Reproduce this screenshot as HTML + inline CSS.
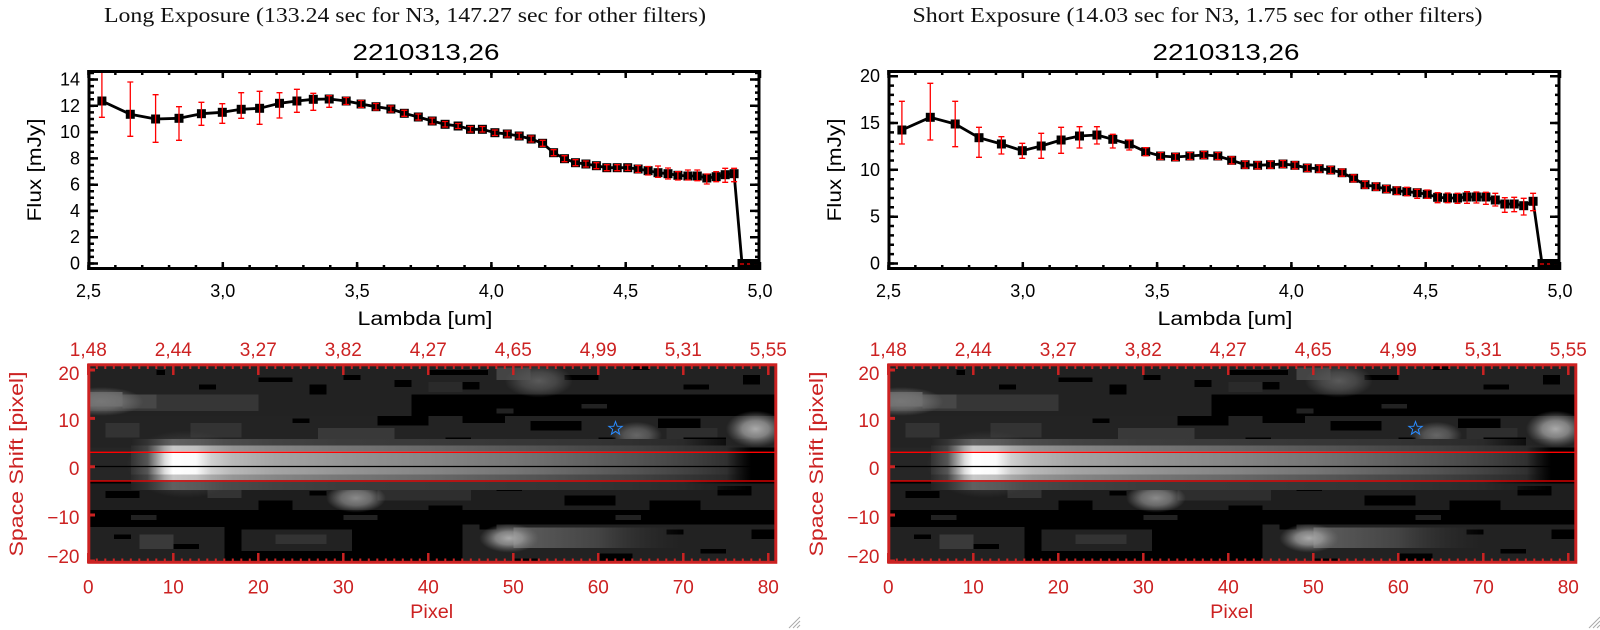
<!DOCTYPE html>
<html><head><meta charset="utf-8"><style>
html,body{margin:0;padding:0;background:#fff;}
svg{display:block;}
.t{font-family:"Liberation Sans",sans-serif;}
.s{font-family:"Liberation Serif",serif;}
</style></head><body>
<svg width="1600" height="630" viewBox="0 0 1600 630" xmlns="http://www.w3.org/2000/svg">
<defs>
<marker id="sq" markerUnits="userSpaceOnUse" markerWidth="10" markerHeight="10" refX="4.5" refY="4.5" overflow="visible"><rect width="9" height="9" fill="#000"/></marker>
<clipPath id="cpL"><rect x="88.5" y="71" width="671.5" height="198"/></clipPath>
<clipPath id="cpR"><rect x="888.5" y="71" width="671.5" height="198"/></clipPath>
<clipPath id="cpI"><rect x="88.3" y="364.3" width="688.5" height="198.7"/></clipPath>
<linearGradient id="gc" x1="0" x2="1" y1="0" y2="0">
<stop offset="0" stop-color="#333"/><stop offset="0.027" stop-color="#555"/><stop offset="0.041" stop-color="#999"/><stop offset="0.055" stop-color="#ddd"/><stop offset="0.068" stop-color="#fff"/><stop offset="0.105" stop-color="#fafafa"/><stop offset="0.13" stop-color="#d0d0d0"/><stop offset="0.164" stop-color="#b8b8b8"/><stop offset="0.233" stop-color="#a4a4a4"/><stop offset="0.342" stop-color="#959595"/><stop offset="0.479" stop-color="#868686"/><stop offset="0.616" stop-color="#767676"/><stop offset="0.726" stop-color="#636363"/><stop offset="0.822" stop-color="#525252"/><stop offset="0.904" stop-color="#404040"/><stop offset="0.96" stop-color="#303030"/><stop offset="1" stop-color="#222" stop-opacity="0"/>
</linearGradient>
<linearGradient id="gm" x1="0" x2="1" y1="0" y2="0">
<stop offset="0" stop-color="#2a2a2a"/><stop offset="0.027" stop-color="#444"/><stop offset="0.041" stop-color="#777"/><stop offset="0.055" stop-color="#aaa"/><stop offset="0.068" stop-color="#c8c8c8"/><stop offset="0.105" stop-color="#c0c0c0"/><stop offset="0.13" stop-color="#a8a8a8"/><stop offset="0.164" stop-color="#959595"/><stop offset="0.233" stop-color="#858585"/><stop offset="0.342" stop-color="#767676"/><stop offset="0.479" stop-color="#686868"/><stop offset="0.616" stop-color="#585858"/><stop offset="0.726" stop-color="#4a4a4a"/><stop offset="0.822" stop-color="#404040"/><stop offset="0.904" stop-color="#333"/><stop offset="0.96" stop-color="#2a2a2a"/><stop offset="1" stop-color="#222" stop-opacity="0"/>
</linearGradient>
<linearGradient id="gh" x1="0" x2="1" y1="0" y2="0">
<stop offset="0" stop-color="#222"/><stop offset="0.027" stop-color="#333"/><stop offset="0.055" stop-color="#555"/><stop offset="0.068" stop-color="#606060"/><stop offset="0.11" stop-color="#5a5a5a"/><stop offset="0.151" stop-color="#4c4c4c"/><stop offset="0.233" stop-color="#424242"/><stop offset="0.342" stop-color="#3c3c3c"/><stop offset="0.548" stop-color="#383838"/><stop offset="0.753" stop-color="#333"/><stop offset="0.89" stop-color="#2a2a2a"/><stop offset="1" stop-color="#222" stop-opacity="0"/>
</linearGradient>
<linearGradient id="gt" x1="0" x2="1" y1="0" y2="0"><stop offset="0" stop-color="#5e5e5e"/><stop offset="0.5" stop-color="#444"/><stop offset="1" stop-color="#2a2a2a" stop-opacity="0"/></linearGradient>
<radialGradient id="r77"><stop offset="0" stop-color="#777"/><stop offset="0.5" stop-color="#777" stop-opacity="0.7"/><stop offset="1" stop-color="#777" stop-opacity="0"/></radialGradient>
<radialGradient id="r88"><stop offset="0" stop-color="#8a8a8a"/><stop offset="0.5" stop-color="#8a8a8a" stop-opacity="0.7"/><stop offset="1" stop-color="#8a8a8a" stop-opacity="0"/></radialGradient>
<radialGradient id="raa"><stop offset="0" stop-color="#aaa"/><stop offset="0.45" stop-color="#999" stop-opacity="0.8"/><stop offset="1" stop-color="#777" stop-opacity="0"/></radialGradient>
<radialGradient id="r66"><stop offset="0" stop-color="#666"/><stop offset="0.5" stop-color="#666" stop-opacity="0.7"/><stop offset="1" stop-color="#666" stop-opacity="0"/></radialGradient>
<radialGradient id="r5a"><stop offset="0" stop-color="#5a5a5a"/><stop offset="0.5" stop-color="#555" stop-opacity="0.7"/><stop offset="1" stop-color="#555" stop-opacity="0"/></radialGradient>
<radialGradient id="r4a"><stop offset="0" stop-color="#4a4a4a"/><stop offset="0.6" stop-color="#444" stop-opacity="0.7"/><stop offset="1" stop-color="#444" stop-opacity="0"/></radialGradient>

<g id="bp">
 <g clip-path="url(#cpI)">
  <g transform="translate(88.3,466.7) scale(8.5,-4.83)" shape-rendering="crispEdges">
   <rect x="0" y="-20.5" width="81.5" height="42" fill="#000"/>
   <rect x="0" y="15" width="81.5" height="6.5" fill="#222"/>
   <rect x="0" y="10.5" width="38" height="4.5" fill="#222"/>
   <rect x="0" y="4" width="81.5" height="6.5" fill="#232323"/>
   <rect x="0" y="-9" width="81.5" height="5.5" fill="#1e1e1e"/>
   <rect x="0" y="-20.5" width="16" height="8" fill="#222"/>
   <rect x="18" y="-17.5" width="13" height="4.5" fill="#222"/>
   <rect x="44" y="-20.5" width="37.5" height="8.5" fill="#222"/>
   <rect x="0" y="-3" width="8" height="7" fill="#262626"/>
   <rect x="0" y="11.5" width="20" height="3.5" fill="#363636"/>
   <rect x="0" y="12.5" width="4" height="3" fill="#5a5a5a"/>
   <rect x="4" y="12" width="4" height="3" fill="#474747"/>
   <rect x="2" y="6" width="4" height="3" fill="#333"/>
   <rect x="12" y="6" width="6" height="3" fill="#333"/>
   <rect x="27" y="5.5" width="9" height="2.5" fill="#393939"/>
   <rect x="48" y="18" width="4" height="2.5" fill="#444"/>
   <rect x="14" y="-6.5" width="4" height="2.5" fill="#333"/>
   <rect x="34" y="-7" width="11" height="3" fill="#2e2e2e"/>
   <rect x="6" y="-17" width="4" height="3" fill="#3a3a3a"/>
   <rect x="22" y="-16" width="6" height="2" fill="#333"/>
   <rect x="68" y="5" width="6" height="3" fill="#2e2e2e"/>
   <rect x="40" y="15.5" width="4" height="2" fill="#2a2a2a"/>
   <rect x="58" y="12" width="3" height="1" fill="#222"/>
   <rect x="48" y="11" width="2" height="1" fill="#222"/>
   <rect x="5" y="-11" width="3" height="1" fill="#222"/>
   <rect x="30" y="-11" width="4" height="1" fill="#222"/>
   <rect x="62" y="-11" width="3" height="1" fill="#222"/>
   <g fill="#000">
    <rect x="20" y="17.5" width="4" height="1"/><rect x="26" y="15" width="2" height="2"/><rect x="36" y="16.5" width="2" height="1.5"/><rect x="40" y="19" width="7" height="1"/><rect x="44" y="16" width="2" height="1.5"/><rect x="56" y="18" width="4" height="1"/><rect x="64" y="20" width="2" height="1"/><rect x="70" y="16" width="3" height="1"/><rect x="77" y="17" width="2" height="2"/><rect x="8" y="19" width="1" height="1"/><rect x="30" y="18" width="2" height="1"/><rect x="13" y="16" width="2" height="1"/>
    <rect x="34" y="8.5" width="6" height="2"/><rect x="44" y="9" width="5" height="1.5"/><rect x="52" y="7.5" width="6" height="2"/><rect x="67" y="8" width="5" height="2"/><rect x="70" y="4" width="5" height="2"/><rect x="60" y="5" width="2" height="1"/><rect x="24" y="9" width="2" height="1"/><rect x="42" y="5" width="3" height="1"/><rect x="56" y="4" width="3" height="1"/>
    <rect x="2" y="-6.5" width="4" height="1.5"/><rect x="20" y="-9" width="4" height="2"/><rect x="26" y="-6" width="2" height="1"/><rect x="40" y="-9" width="4" height="1"/><rect x="56" y="-8" width="6" height="2"/><rect x="66" y="-9" width="6" height="2"/><rect x="74" y="-6" width="4" height="2"/><rect x="48" y="-5" width="3" height="1"/>
    <rect x="3" y="-15" width="2" height="1"/><rect x="10" y="-17" width="3" height="1"/><rect x="50" y="-20.5" width="3" height="1.5"/><rect x="60" y="-19.5" width="4" height="1.5"/><rect x="72" y="-18" width="3" height="1"/><rect x="68" y="-14" width="2" height="1"/><rect x="46" y="-13" width="2" height="1"/><rect x="78" y="-15" width="3" height="2"/>
   </g>
   <ellipse cx="1.5" cy="13.5" rx="5" ry="3" fill="url(#r77)"/>
   <ellipse cx="31.5" cy="-6.5" rx="3.5" ry="3" fill="url(#r88)"/>
   <rect x="50" y="-16.8" width="20" height="4.2" fill="url(#gt)"/>
   <ellipse cx="49.5" cy="-14.8" rx="3.5" ry="3" fill="url(#raa)"/>
   <ellipse cx="78.5" cy="7.8" rx="3.5" ry="3.8" fill="url(#raa)"/>
   <ellipse cx="64.5" cy="6.5" rx="3" ry="2.8" fill="url(#r66)"/>
   <ellipse cx="53" cy="17.8" rx="4" ry="3.5" fill="url(#r5a)"/>
   <ellipse cx="11.5" cy="0.5" rx="7" ry="7" fill="url(#r4a)"/>
   <rect x="5" y="4.4" width="73" height="1.3" fill="url(#gh)"/>
   <rect x="5" y="3.2" width="73" height="1.2" fill="url(#gm)"/>
   <rect x="5" y="-1.6" width="73" height="4.8" fill="url(#gc)"/>
   <rect x="5" y="-2.8" width="73" height="1.2" fill="url(#gm)"/>
   <rect x="5" y="-4.8" width="73" height="2" fill="url(#gh)"/>
  </g>
  <line x1="88" y1="452.3" x2="777" y2="452.3" stroke="#ff0000" stroke-width="1.3"/>
  <line x1="88" y1="481" x2="777" y2="481" stroke="#ff0000" stroke-width="1.3"/>
  <line x1="88" y1="466.5" x2="777" y2="466.5" stroke="#000" stroke-width="1.2"/>
 </g>
 <polygon points="615.5,421.5 617.2,426.2 622.2,426.3 618.3,429.4 619.6,434.2 615.5,431.4 611.4,434.2 612.7,429.4 608.8,426.3 613.8,426.2" fill="none" stroke="#2a8cff" stroke-width="1"/>
 <g stroke="#cc2222" fill="none">
  <rect x="88.8" y="364.8" width="687" height="197.5" stroke-width="3"/>
  <line x1="87.3" y1="367" x2="770" y2="367" stroke-width="4" stroke-dasharray="2 6.5"/>
  <line x1="87.3" y1="560.5" x2="770" y2="560.5" stroke-width="4" stroke-dasharray="2 6.5"/>
  <path d="M88.3 364V375M173.3 364V375M258.3 364V375M343.3 364V375M428.3 364V375M513.3 364V375M598.3 364V375M683.3 364V375M768.3 364V375M88.3 553V563M173.3 553V563M258.3 553V563M343.3 553V563M428.3 553V563M513.3 553V563M598.3 553V563M683.3 553V563M768.3 553V563" stroke-width="2.5"/>
  <path d="M88 370H95M88 418.4H95M88 466.7H95M88 515H95M88 561H95" stroke-width="3"/>
 </g>
 <path d="M789 628L800 617M793 628L800 621M797 628L800 625" stroke="#aaa" stroke-width="1"/>
</g>
</defs>

<!-- Titles -->
<text class="s" x="405" y="22" font-size="21" text-anchor="middle" textLength="602" lengthAdjust="spacingAndGlyphs" fill="#111">Long Exposure (133.24 sec for N3, 147.27 sec for other filters)</text>
<text class="s" x="1197.5" y="22" font-size="21" text-anchor="middle" textLength="570" lengthAdjust="spacingAndGlyphs" fill="#111">Short Exposure (14.03 sec for N3, 1.75 sec for other filters)</text>
<text class="t" x="426" y="60" font-size="23" text-anchor="middle" textLength="147" lengthAdjust="spacingAndGlyphs">2210313,26</text>
<text class="t" x="1226" y="60" font-size="23" text-anchor="middle" textLength="147" lengthAdjust="spacingAndGlyphs">2210313,26</text>

<!-- LEFT TOP PLOT -->
<g clip-path="url(#cpL)">
 <polyline fill="none" stroke="#000" stroke-width="2.8" stroke-linejoin="round" marker-start="url(#sq)" marker-mid="url(#sq)" marker-end="url(#sq)" points="101.9,101 130.3,114.3 155.6,119 179,118.3 201.4,113.7 222.3,112.3 241.2,109.3 259.6,108.3 279.5,103.3 296.9,101 313.3,99.3 329.2,99 346.2,101 361.1,104 376,106.7 390.9,109 404.3,113.3 418.3,117 432.2,121 445.1,124.3 458.1,126 470.5,129.3 482.4,129.3 494.9,132.7 507.3,134 519.2,136 531.2,139 542.6,143.3 553.6,152.7 564.5,158.7 575.5,162.7 585.9,164 596.4,165.7 606.8,167.7 617.2,167.7 627.7,167.7 638.1,169 648.1,170.7 658,172.7 668,173.7 677.9,175.3 687.9,176 697.3,176 706.8,178 716.2,176.7 725.2,174.7 734.1,173.7 742,263.5 751,263.5 758,263.5"/>
 <path fill="none" stroke="#ff0000" stroke-width="1.3" d="M101.9 66V117.3M98.9 117.3h6M130.3 82V136.3M127.3 82h6M127.3 136.3h6M155.6 94.7V142.3M152.6 94.7h6M152.6 142.3h6M179 106.7V140.3M176 106.7h6M176 140.3h6M201.4 102.3V125.3M198.4 102.3h6M198.4 125.3h6M222.3 103.7V123.3M219.3 103.7h6M219.3 123.3h6M241.2 92.7V118.3M238.2 92.7h6M238.2 118.3h6M259.6 91.3V124.3M256.6 91.3h6M256.6 124.3h6M279.5 92.7V118M276.5 92.7h6M276.5 118h6M296.9 89.3V112.3M293.9 89.3h6M293.9 112.3h6M313.3 93.3V110.3M310.3 93.3h6M310.3 110.3h6M329.2 95.7V107.3M326.2 95.7h6M326.2 107.3h6M346.2 97.5V104.5M343.2 97.5h6M343.2 104.5h6M361.1 100.5V107.5M358.1 100.5h6M358.1 107.5h6M376 103.5V110M373 103.5h6M373 110h6M390.9 106V112M387.9 106h6M387.9 112h6M404.3 110.3V116.3M401.3 110.3h6M401.3 116.3h6M418.3 114V120M415.3 114h6M415.3 120h6M432.2 118V124M429.2 118h6M429.2 124h6M445.1 121.5V127M442.1 121.5h6M442.1 127h6M458.1 123.5V128.5M455.1 123.5h6M455.1 128.5h6M470.5 126.5V132M467.5 126.5h6M467.5 132h6M482.4 126.5V132M479.4 126.5h6M479.4 132h6M494.9 130V135.5M491.9 130h6M491.9 135.5h6M507.3 131V137M504.3 131h6M504.3 137h6M519.2 133V139M516.2 133h6M516.2 139h6M531.2 136V142M528.2 136h6M528.2 142h6M542.6 140.3V146.3M539.6 140.3h6M539.6 146.3h6M553.6 149.7V155.7M550.6 149.7h6M550.6 155.7h6M564.5 155.7V161.7M561.5 155.7h6M561.5 161.7h6M575.5 159.7V165.7M572.5 159.7h6M572.5 165.7h6M585.9 161V167M582.9 161h6M582.9 167h6M596.4 162.7V168.7M593.4 162.7h6M593.4 168.7h6M606.8 164.7V170.7M603.8 164.7h6M603.8 170.7h6M617.2 164.7V170.7M614.2 164.7h6M614.2 170.7h6M627.7 165V170.5M624.7 165h6M624.7 170.5h6M638.1 165.5V172.5M635.1 165.5h6M635.1 172.5h6M648.1 166.5V175M645.1 166.5h6M645.1 175h6M658 166V177.3M655 166h6M655 177.3h6M668 168V179M665 168h6M665 179h6M677.9 171.7V180M674.9 171.7h6M674.9 180h6M687.9 170V180M684.9 170h6M684.9 180h6M697.3 170V180.7M694.3 170h6M694.3 180.7h6M706.8 174V184M703.8 174h6M703.8 184h6M716.2 171.7V181.7M713.2 171.7h6M713.2 181.7h6M725.2 168.3V182.3M722.2 168.3h6M722.2 182.3h6M734.1 168.3V181.7M731.1 168.3h6M731.1 181.7h6"/>
 <line x1="740" y1="264" x2="760" y2="264" stroke="#ff0000" stroke-width="1.3" stroke-dasharray="4 3"/>
</g>
<g stroke="#000" fill="none">
 <rect x="89" y="71.5" width="670" height="197" stroke-width="3"/>
 <line x1="87.25" y1="267.5" x2="761" y2="267.5" stroke-width="5" stroke-dasharray="2.5 24.36"/>
 <line x1="87.25" y1="72.5" x2="761" y2="72.5" stroke-width="5" stroke-dasharray="2.5 24.36"/>
 <path stroke-width="2.5" d="M88.5 270V262M222.8 270V262M357.1 270V262M491.4 270V262M625.7 270V262M760 270V262M88.5 70V78M222.8 70V78M357.1 70V78M491.4 70V78M625.7 70V78M760 70V78"/>
 <line x1="91" y1="264.75" x2="91" y2="70" stroke-width="6" stroke-dasharray="2.5 4.07"/>
 <line x1="757.5" y1="264.75" x2="757.5" y2="70" stroke-width="5" stroke-dasharray="2.5 4.07"/>
 <path stroke-width="2.5" d="M88 263.5H98M88 237.2H98M88 210.9H98M88 184.7H98M88 158.4H98M88 132.1H98M88 105.8H98M88 79.5H98M750 263.5H760M750 237.2H760M750 210.9H760M750 184.7H760M750 158.4H760M750 132.1H760M750 105.8H760M750 79.5H760"/>
</g>
<g class="t" font-size="18" text-anchor="end" fill="#000">
 <text x="80" y="85.5">14</text><text x="80" y="111.8">12</text><text x="80" y="138.1">10</text><text x="80" y="164.4">8</text><text x="80" y="190.7">6</text><text x="80" y="216.9">4</text><text x="80" y="243.2">2</text><text x="80" y="269.5">0</text>
</g>
<g class="t" font-size="18" text-anchor="middle" fill="#000">
 <text x="88.5" y="297">2,5</text><text x="222.8" y="297">3,0</text><text x="357.1" y="297">3,5</text><text x="491.4" y="297">4,0</text><text x="625.7" y="297">4,5</text><text x="760" y="297">5,0</text>
</g>
<text class="t" x="425" y="325" font-size="19" text-anchor="middle" textLength="135" lengthAdjust="spacingAndGlyphs">Lambda [um]</text>
<text class="t" x="41" y="170" font-size="19" text-anchor="middle" textLength="103" lengthAdjust="spacingAndGlyphs" transform="rotate(-90 41 170)">Flux [mJy]</text>

<!-- RIGHT TOP PLOT -->
<g clip-path="url(#cpR)">
 <polyline fill="none" stroke="#000" stroke-width="2.8" stroke-linejoin="round" marker-start="url(#sq)" marker-mid="url(#sq)" marker-end="url(#sq)" points="901.9,130 930.3,117.3 955.2,124 979,137.7 1001.4,144 1022.3,150.7 1041.2,146 1061.1,140 1079.5,136 1096.9,135 1112.8,139.3 1129.2,144 1145.7,151.7 1160.6,156 1175.5,157 1189.9,156 1203.9,155 1217.8,156 1231.7,160.3 1245.1,164.7 1257.6,165.3 1270.5,164.7 1283,164 1294.9,165.3 1307.3,168 1319.2,168.7 1330.7,170 1342.1,172.7 1353.6,178.3 1365,184.7 1376,186.7 1386.4,189 1396.8,190.7 1406.8,191.7 1417.2,192.7 1427.2,194.3 1437.6,197.3 1447.6,198 1457.5,198 1467,197 1476.4,197 1485.9,197 1495.3,200 1504.8,204 1514.2,204 1523.7,205.7 1533.1,201.3 1542,263.5 1551,263.5 1558,263.5"/>
 <path fill="none" stroke="#ff0000" stroke-width="1.3" d="M901.9 101.3V144M898.9 101.3h6M898.9 144h6M930.3 83.3V140M927.3 83.3h6M927.3 140h6M955.2 101.3V146.7M952.2 101.3h6M952.2 146.7h6M979 127.3V157.3M976 127.3h6M976 157.3h6M1001.4 136.7V154M998.4 136.7h6M998.4 154h6M1022.3 143.3V158.3M1019.3 143.3h6M1019.3 158.3h6M1041.2 133.3V158.3M1038.2 133.3h6M1038.2 158.3h6M1061.1 127.3V153.3M1058.1 127.3h6M1058.1 153.3h6M1079.5 126.7V148M1076.5 126.7h6M1076.5 148h6M1096.9 126.7V144M1093.9 126.7h6M1093.9 144h6M1112.8 134.3V148M1109.8 134.3h6M1109.8 148h6M1129.2 140V150M1126.2 140h6M1126.2 150h6M1145.7 147.7V155.7M1142.7 147.7h6M1142.7 155.7h6M1160.6 152.5V159.5M1157.6 152.5h6M1157.6 159.5h6M1175.5 153.5V160.5M1172.5 153.5h6M1172.5 160.5h6M1189.9 152.5V159.5M1186.9 152.5h6M1186.9 159.5h6M1203.9 151.5V158.5M1200.9 151.5h6M1200.9 158.5h6M1217.8 152.5V159.5M1214.8 152.5h6M1214.8 159.5h6M1231.7 156.8V163.8M1228.7 156.8h6M1228.7 163.8h6M1245.1 161.2V168.2M1242.1 161.2h6M1242.1 168.2h6M1257.6 161.8V168.8M1254.6 161.8h6M1254.6 168.8h6M1270.5 161.2V168.2M1267.5 161.2h6M1267.5 168.2h6M1283 160.5V167.5M1280 160.5h6M1280 167.5h6M1294.9 161.8V168.8M1291.9 161.8h6M1291.9 168.8h6M1307.3 164.5V171.5M1304.3 164.5h6M1304.3 171.5h6M1319.2 165.2V172.2M1316.2 165.2h6M1316.2 172.2h6M1330.7 166.5V173.5M1327.7 166.5h6M1327.7 173.5h6M1342.1 169.2V176.2M1339.1 169.2h6M1339.1 176.2h6M1353.6 174.8V181.8M1350.6 174.8h6M1350.6 181.8h6M1365 181.2V188.2M1362 181.2h6M1362 188.2h6M1376 183.2V190.2M1373 183.2h6M1373 190.2h6M1386.4 185.5V192.5M1383.4 185.5h6M1383.4 192.5h6M1396.8 187V194.5M1393.8 187h6M1393.8 194.5h6M1406.8 187.3V195.7M1403.8 187.3h6M1403.8 195.7h6M1417.2 189.3V198.3M1414.2 189.3h6M1414.2 198.3h6M1427.2 190V198.3M1424.2 190h6M1424.2 198.3h6M1437.6 192.7V202.7M1434.6 192.7h6M1434.6 202.7h6M1447.6 193V202.7M1444.6 193h6M1444.6 202.7h6M1457.5 193.3V203.3M1454.5 193.3h6M1454.5 203.3h6M1467 191.7V203.3M1464 191.7h6M1464 203.3h6M1476.4 192V203M1473.4 192h6M1473.4 203h6M1485.9 192.3V204.3M1482.9 192.3h6M1482.9 204.3h6M1495.3 193.3V206M1492.3 193.3h6M1492.3 206h6M1504.8 197.7V212.3M1501.8 197.7h6M1501.8 212.3h6M1514.2 197.3V211.7M1511.2 197.3h6M1511.2 211.7h6M1523.7 198.3V215M1520.7 198.3h6M1520.7 215h6M1533.1 193.3V210.7M1530.1 193.3h6M1530.1 210.7h6"/>
 <line x1="1540" y1="264" x2="1560" y2="264" stroke="#ff0000" stroke-width="1.3" stroke-dasharray="4 3"/>
</g>
<g stroke="#000" fill="none">
 <rect x="889" y="71.5" width="670" height="197" stroke-width="3"/>
 <line x1="887.25" y1="267.5" x2="1561" y2="267.5" stroke-width="5" stroke-dasharray="2.5 24.36"/>
 <line x1="887.25" y1="72.5" x2="1561" y2="72.5" stroke-width="5" stroke-dasharray="2.5 24.36"/>
 <path stroke-width="2.5" d="M888.5 270V262M1022.8 270V262M1157.1 270V262M1291.4 270V262M1425.7 270V262M1560 270V262M888.5 70V78M1022.8 70V78M1157.1 70V78M1291.4 70V78M1425.7 70V78M1560 70V78"/>
 <line x1="891" y1="264.75" x2="891" y2="70" stroke-width="6" stroke-dasharray="2.5 6.865"/>
 <line x1="1557.5" y1="264.75" x2="1557.5" y2="70" stroke-width="5" stroke-dasharray="2.5 6.865"/>
 <path stroke-width="2.5" d="M888 263.5H898M888 216.7H898M888 169.8H898M888 123H898M888 76.2H898M1550 263.5H1560M1550 216.7H1560M1550 169.8H1560M1550 123H1560M1550 76.2H1560"/>
</g>
<g class="t" font-size="18" text-anchor="end" fill="#000">
 <text x="880" y="82.2">20</text><text x="880" y="129">15</text><text x="880" y="175.8">10</text><text x="880" y="222.7">5</text><text x="880" y="269.5">0</text>
</g>
<g class="t" font-size="18" text-anchor="middle" fill="#000">
 <text x="888.5" y="297">2,5</text><text x="1022.8" y="297">3,0</text><text x="1157.1" y="297">3,5</text><text x="1291.4" y="297">4,0</text><text x="1425.7" y="297">4,5</text><text x="1560" y="297">5,0</text>
</g>
<text class="t" x="1225" y="325" font-size="19" text-anchor="middle" textLength="135" lengthAdjust="spacingAndGlyphs">Lambda [um]</text>
<text class="t" x="841" y="170" font-size="19" text-anchor="middle" textLength="103" lengthAdjust="spacingAndGlyphs" transform="rotate(-90 841 170)">Flux [mJy]</text>

<!-- BOTTOM PANELS -->
<use href="#bp"/>
<use href="#bp" transform="translate(800,0)"/>

<g class="t" font-size="19" text-anchor="middle" fill="#cc2222">
 <text x="88.3" y="356">1,48</text><text x="173.3" y="356">2,44</text><text x="258.3" y="356">3,27</text><text x="343.3" y="356">3,82</text><text x="428.3" y="356">4,27</text><text x="513.3" y="356">4,65</text><text x="598.3" y="356">4,99</text><text x="683.3" y="356">5,31</text><text x="768.3" y="356">5,55</text>
 <text x="888.3" y="356">1,48</text><text x="973.3" y="356">2,44</text><text x="1058.3" y="356">3,27</text><text x="1143.3" y="356">3,82</text><text x="1228.3" y="356">4,27</text><text x="1313.3" y="356">4,65</text><text x="1398.3" y="356">4,99</text><text x="1483.3" y="356">5,31</text><text x="1568.3" y="356">5,55</text>
 <text x="88.3" y="593.5">0</text><text x="173.3" y="593.5">10</text><text x="258.3" y="593.5">20</text><text x="343.3" y="593.5">30</text><text x="428.3" y="593.5">40</text><text x="513.3" y="593.5">50</text><text x="598.3" y="593.5">60</text><text x="683.3" y="593.5">70</text><text x="768.3" y="593.5">80</text>
 <text x="888.3" y="593.5">0</text><text x="973.3" y="593.5">10</text><text x="1058.3" y="593.5">20</text><text x="1143.3" y="593.5">30</text><text x="1228.3" y="593.5">40</text><text x="1313.3" y="593.5">50</text><text x="1398.3" y="593.5">60</text><text x="1483.3" y="593.5">70</text><text x="1568.3" y="593.5">80</text>
 <text x="431.7" y="618" textLength="43" lengthAdjust="spacingAndGlyphs">Pixel</text>
 <text x="1231.7" y="618" textLength="43" lengthAdjust="spacingAndGlyphs">Pixel</text>
</g>
<g class="t" font-size="19" text-anchor="end" fill="#cc2222">
 <text x="79.5" y="380">20</text><text x="79.5" y="427">10</text><text x="79.5" y="475">0</text><text x="79.5" y="524">−10</text><text x="79.5" y="563">−20</text>
 <text x="879.5" y="380">20</text><text x="879.5" y="427">10</text><text x="879.5" y="475">0</text><text x="879.5" y="524">−10</text><text x="879.5" y="563">−20</text>
</g>
<text class="t" x="23" y="464" font-size="19.5" fill="#cc2222" text-anchor="middle" textLength="185" lengthAdjust="spacingAndGlyphs" transform="rotate(-90 23 464)">Space Shift [pixel]</text>
<text class="t" x="823" y="464" font-size="19.5" fill="#cc2222" text-anchor="middle" textLength="185" lengthAdjust="spacingAndGlyphs" transform="rotate(-90 823 464)">Space Shift [pixel]</text>
</svg>
</body></html>
